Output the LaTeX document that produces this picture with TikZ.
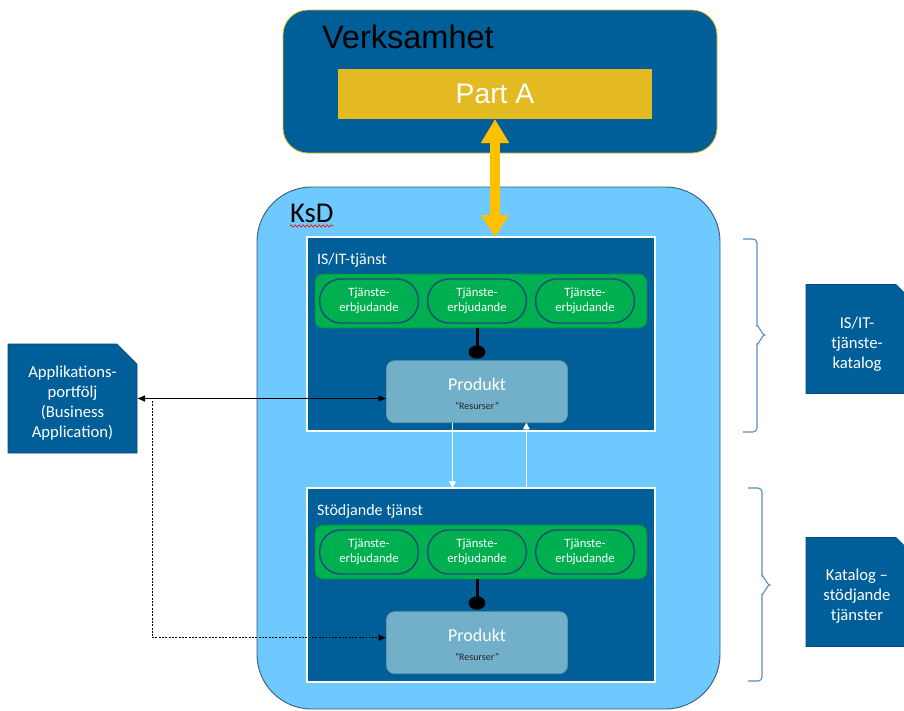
\documentclass[tikz,border=0pt]{standalone}
\usepackage{fontspec}
\setmainfont{Carlito}
\newfontfamily\arialfont{Liberation Sans}
\usetikzlibrary{positioning,calc,arrows.meta,shapes.misc,shapes.geometric,%
		decorations.pathmorphing}

\definecolor{ksblue}{RGB}{0,94,152}
\definecolor{kslight}{RGB}{110,201,255}
\definecolor{ksgreen}{RGB}{0,176,80}
\definecolor{ksprod}{RGB}{114,176,201}
\definecolor{ksgold}{RGB}{227,186,34}
\definecolor{ksyellow}{RGB}{255,192,0}
\definecolor{ksbrace}{RGB}{84,141,190}
\definecolor{ksedge}{RGB}{31,78,121}

\begin{document}
\begin{tikzpicture}[x=0.75pt,y=-0.75pt,
	every node/.style={inner sep=0pt,outer sep=0pt,text=white,align=center,
		font=\fontsize{12.5}{15}\selectfont},
	svc/.style={draw=white,line width=0.8pt,fill=ksblue,minimum width=261pt,minimum height=145.5pt},
	svctitle/.style={font=\fontsize{12}{13}\selectfont},
	band/.style={draw=ksgreen!80!black,line width=0.6pt,fill=ksgreen,rounded corners=6pt,
		minimum width=249pt,minimum height=40.5pt},
	offer/.style={draw=ksedge,line width=1.1pt,fill=ksgreen,rounded corners=16pt,
		minimum width=74pt,minimum height=33pt,font=\fontsize{9.5}{11.5}\selectfont},
	ball/.style={ellipse,fill=black,minimum width=12.5pt,minimum height=10pt},
	prod/.style={draw=ksprod!85!black,line width=0.5pt,fill=ksprod,rounded corners=6pt,
		minimum width=135.75pt,minimum height=46.5pt},
	doc/.style={chamfered rectangle,chamfered rectangle corners=north east,
		chamfered rectangle sep=7.5pt,fill=ksblue,draw=ksblue!80!black,line width=0.5pt},
	brc/.style={draw=ksbrace,line width=0.8pt,rounded corners=3pt},
	link/.style={black,line width=0.6pt},
	wharrow/.style={white,line width=0.8pt,-{Triangle[length=5pt,width=5pt]}}]

\useasboundingbox (0,0) rectangle (904,711);

% Verksamhet
\node[draw=ksgold,line width=0.6pt,fill=ksblue,rounded corners=18.75pt,
	minimum width=325.5pt,minimum height=107.25pt] (verk) at (500,81.5) {};
\node[anchor=base west,text=black,font=\arialfont\fontsize{24.4}{26}\selectfont] (verktitle) at (322,48) {Verksamhet};
\node[fill=ksgold,minimum width=235.5pt,minimum height=37.5pt,
	font=\arialfont\fontsize{21.2}{24}\selectfont] (parta) at (495,94) {Part A};

% KsD
\node[draw=ksedge!70!gray,line width=0.7pt,fill=kslight,rounded corners=41pt,
	minimum width=347.25pt,minimum height=391.5pt] (ksd) at (488.5,448) {};
\node[anchor=base west,text=black,font=\fontsize{21.5}{24}\selectfont] (ksdtitle) at (290,222) {KsD};
\draw[red,line width=0.5pt,decorate,decoration={snake,segment length=3pt,amplitude=0.8pt}]
	($(ksdtitle.base west)+(0,4)$) -- ($(ksdtitle.base east)+(0,4)$);

% the two service boxes
\foreach \g/\y/\t in {a/237/{IS/IT-tjänst},b/488/{Stödjande tjänst}}{
	\node[svc,anchor=north west] (svc-\g) at (307,\y) {};
	\node[svctitle,below right=12.5pt and 7.5pt of svc-\g.north west,anchor=north west] (title-\g) {\t};
	\node[band,below=27.75pt of svc-\g.north] (band-\g) {};
	\foreach \k/\dx in {1/-108,2/0,3/108}
		\node[offer] (off-\g\k) at ($(band-\g.center)+(\dx-4,0)$) {Tjänste-\\erbjudande};
	\node[ball] (ball-\g) at ($(band-\g.south -| off-\g2.center)+(0,24)$) {};
	\draw[line width=2.25pt] (band-\g.south -| ball-\g.center) -- (ball-\g.center);
	\node[prod,below=1.5pt of ball-\g] (prod-\g) {\rule{0pt}{13pt}{\fontsize{13.5}{15}\selectfont Produkt}\\[-1pt]
		{\color{black!85}\fontsize{7.5}{8}\selectfont ”Resurser”}};
}

\draw[wharrow] ([xshift=-18.4pt]prod-a.south) -- ([xshift=-18.4pt]prod-a.south |- svc-b.north);
\draw[wharrow] ([xshift=37pt]prod-a.south |- svc-b.north) -- ([xshift=37pt]prod-a.south);

% Part A <-> IS/IT-tjanst
\draw[ksyellow,line width=7.5pt,{Triangle[width=20pt,length=18pt]}-{Triangle[width=20pt,length=16.5pt]}]
	(parta.south) -- (parta.south |- svc-a.north);

% Applikationsportfolj
\node[doc,minimum width=96.75pt,minimum height=81.75pt] (app) at (72.5,398.5)
	{\rule{0pt}{16pt}Applikations-\\portfölj\\(Business\\Application)};
\draw[link,{Latex[length=6pt,width=5pt]}-{Latex[length=6pt,width=5pt]}] (app.east) -- (app.east -| prod-a.west);
\coordinate (dotstart) at ($(app.east)+(15,2.5)$);
\draw[link,dash pattern=on 1.5pt off 1pt,-{Latex[length=6pt,width=5pt]}] (dotstart) |- ($(prod-b.west)+(0,-5)$);

% catalogues
\draw[brc] (743,239) -| (757,329) to[out=90,in=180] (768,335) to[out=180,in=-90] (757,341) |- (743,432);
\draw[brc] (748,488) -| (762,579) to[out=90,in=180] (773,585) to[out=180,in=-90] (762,591) |- (748,681);
\tikzset{doc/.append style={chamfered rectangle sep=4.5pt,minimum width=76.5pt,minimum height=81.75pt}}
\node[doc] (katalog-a) at (857,339) {\rule{0pt}{17pt}IS/IT-\\tjänste-\\katalog};
\node[doc] (katalog-b) at (857,592) {\rule{0pt}{15pt}Katalog –\\stödjande\\tjänster};

\end{tikzpicture}
\end{document}
